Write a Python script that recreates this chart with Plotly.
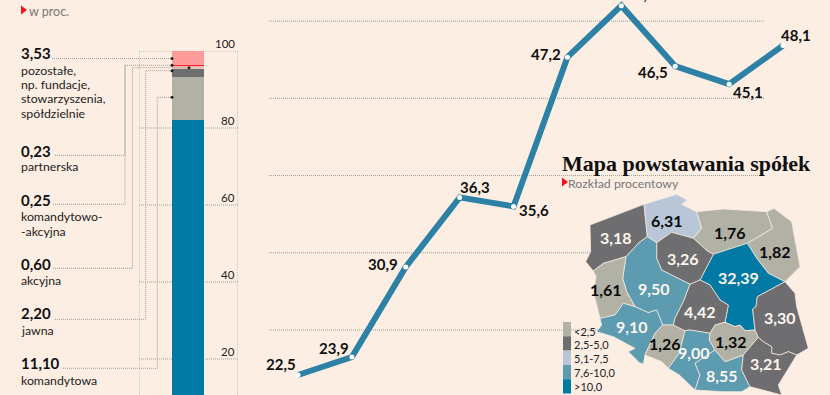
import plotly.graph_objects as go

# ---- data -----------------------------------------------------------
line_index = [0, 1, 2, 3, 4, 5, 6, 7, 8, 9]
line_values = [22.5, 23.9, 30.9, 36.3, 35.6, 47.2, 51.2, 46.5, 45.1, 48.1]
line_offsets = [(-17, -11), (-18, -9), (-23, -3), (15, -10), (20, 4),
                (-21, -3), (20, -12), (-22, 6), (19, 8), (13, -11)]
line_grid = [26, 32, 38, 44, 50]

stack_names = ["sp. z o.o.", "komandytowa", "jawna", "akcyjna",
               "komandytowo-akcyjna", "partnerska", "pozostałe"]
stack_values = [82.09, 11.10, 2.20, 0.60, 0.25, 0.23, 3.53]
stack_colors = ["#0079a5", "#b2b1a6", "#6e6e70", "#e3c7bd", "#fdb0a8", "#f0242c", "#fe9c9c"]
bar_ticks = [20, 40, 60, 80, 100]

BG = "#fdeee3"
GRID = "#a09c96"
LOW, MID, PALE, TEAL, DEEP = "#b2b1a6", "#6e6e70", "#b9c6d8", "#5c9bb0", "#0079a5"

legend_labels = ["<2,5", "2,5-5,0", "5,1-7,5", "7,6-10,0", ">10,0"]
legend_colors = [LOW, MID, PALE, TEAL, DEEP]

region_values = [3.18, 6.31, 1.76, 1.82, 32.39, 3.26, 9.50, 1.61, 9.10, 1.26, 4.42, 9.00, 8.55, 1.32, 3.30, 3.21]
region_labels = ["3,18", "6,31", "1,76", "1,82", "32,39", "3,26", "9,50", "1,61",
                 "9,10", "1,26", "4,42", "9,00", "8,55", "1,32", "3,30", "3,21"]
region_label_at = [(616, 237), (667, 220), (730, 232), (775, 251), (738, 277), (683, 258), (654, 288), (606, 289),
                   (632, 326), (665, 343), (700, 311), (694, 352), (722, 375), (731, 341), (780, 317), (766, 363)]
# traced outlines, in crop units (3x, origin 550,145)
region_outlines = [
    [(120,240),(282,178),(292,275),(268,292),(228,335),(160,355),(130,378),(107,350),(122,320)],
    [(282,178),(380,148),(412,165),(395,178),(440,200),(455,250),(430,280),(365,262),(320,293),(292,275)],
    [(440,200),(520,192),(650,200),(668,250),(592,295),(490,328),(472,318),(430,280),(455,250)],
    [(650,200),(672,190),(725,230),(750,365),(705,410),(655,385),(620,340),(592,295),(668,250)],
    [(490,328),(592,295),(620,340),(655,385),(705,410),(622,455),(618,485),(608,492),(615,555),(585,557),(570,540),(555,545),(525,532),(535,480),(510,465),(480,420),(450,405)],
    [(320,293),(365,262),(430,280),(472,318),(490,328),(450,405),(420,418),(335,375),(320,340)],
    [(292,275),(320,293),(320,340),(335,375),(420,418),(400,470),(375,520),(370,540),(338,540),(320,495),(295,503),(255,485),(230,440),(218,400),(228,335),(268,292)],
    [(130,378),(160,355),(228,335),(218,400),(230,440),(255,485),(220,475),(195,510),(150,520),(130,440),(138,395)],
    [(150,520),(195,510),(220,475),(255,485),(295,503),(320,495),(338,540),(315,565),(285,630),(280,657),(268,653),(235,620),(255,610),(190,575),(140,560),(155,540)],
    [(338,540),(370,540),(405,557),(395,595),(388,625),(355,670),(335,650),(285,630),(315,565)],
    [(420,418),(450,405),(480,420),(510,465),(535,480),(525,532),(495,540),(480,565),(420,555),(405,557),(370,540),(375,520),(400,470)],
    [(405,557),(420,555),(480,565),(478,585),(495,615),(435,655),(450,690),(435,735),(388,690),(355,670),(388,625),(395,595)],
    [(495,615),(525,650),(580,630),(575,675),(600,725),(575,740),(520,740),(475,738),(435,735),(450,690),(435,655)],
    [(480,565),(495,540),(525,532),(555,545),(570,540),(585,557),(615,555),(625,577),(580,630),(525,650),(495,615),(478,585)],
    [(622,455),(705,410),(735,445),(740,485),(775,610),(740,630),(715,620),(690,630),(665,625),(665,605),(640,590),(625,577),(615,555),(608,492),(618,485)],
    [(625,577),(640,590),(665,605),(665,625),(690,630),(715,620),(740,630),(685,720),(695,750),(600,725),(575,675),(580,630)],
]

left_values = ["3,53", "0,23", "0,25", "0,60", "2,20", "11,10"]
left_value_y = [53, 151, 200, 264, 313, 363]
left_names = ["pozostałe,", "np. fundacje,", "stowarzyszenia,", "spółdzielnie", "partnerska",
              "komandytowo-", "-akcyjna", "akcyjna", "jawna", "komandytowa"]
left_name_y = [70, 84, 98, 113, 166, 216, 231, 280, 330, 380]

leaders = [
    [(52,58.5),(172,58.5)],
    [(55,155.3),(125,155.3),(125,65.3),(172,65.3)],
    [(53,204.3),(125,204.3),(125,65.3)],
    [(53,268.3),(132.5,268.3),(132.5,67.7),(189,67.7)],
    [(55,319.3),(145.7,319.3),(145.7,70.7),(172,70.7)],
    [(63,368.3),(157.3,368.3),(157.3,97.3),(172,97.3)],
]
leader_dots = [(172,58.5),(172,65.3),(189,67.7),(172,70.7),(172,97.3)]

# ---- helpers --------------------------------------------------------
W, H = 830, 395
DOT = "1px,1px"
def bin_color(v):
    if v < 2.5: return LOW
    if v <= 5.0: return MID
    if v <= 7.5: return PALE
    if v <= 10.0: return TEAL
    return DEEP

fig = go.Figure()
anns = []
def label(x, y, text, size=12.3, color="#222", bold=False, anchor="left", family="Lato"):
    if bold: text = f"<b>{text}</b>"
    anns.append(dict(x=x, y=y, xref="x3", yref="y3", text=text, showarrow=False, xanchor=anchor, yanchor="middle",
                     font=dict(family=family, size=size, color=color), borderpad=0, borderwidth=0))

# ---- stacked bar ----------------------------------------------------
for n, v, c in zip(stack_names, stack_values, stack_colors):
    fig.add_bar(x=[0], y=[v], name=n, marker=dict(color=c, line=dict(width=0)), width=1, xaxis="x", yaxis="y")
for t in bar_ticks:
    anns.append(dict(x=1, xref="x domain", y=t, yref="y", text=str(t), showarrow=False, xanchor="right", yanchor="bottom",
                     xshift=-3, yshift=1, font=dict(family="Lato", size=11.5, color="#222"), borderpad=0, borderwidth=0))

# ---- line -----------------------------------------------------------
fig.add_scatter(x=line_index, y=line_values, mode="lines+markers", xaxis="x2", yaxis="y2",
                line=dict(color="#2c81a5", width=6, shape="linear"),
                marker=dict(color="white", size=5, line=dict(color="#2c81a5", width=0)))
for xi, v, (dx, dy) in zip(line_index, line_values, line_offsets):
    anns.append(dict(x=xi, y=v, xref="x2", yref="y2", text="<b>" + f"{v:.1f}".replace(".", ",") + "</b>", showarrow=False,
                     xshift=dx, yshift=-dy, font=dict(family="Lato", size=15, color="#111"), borderpad=0, borderwidth=0))

# ---- leaders --------------------------------------------------------
for pts in leaders:
    fig.add_scatter(x=[p[0] for p in pts], y=[p[1] for p in pts], mode="lines", xaxis="x3", yaxis="y3",
                    line=dict(color=GRID, width=1, dash=DOT))
fig.add_scatter(x=[p[0] for p in leader_dots], y=[p[1] for p in leader_dots], mode="markers", xaxis="x3", yaxis="y3",
                marker=dict(color="#222", size=3))

# ---- map ------------------------------------------------------------
for outline, v in zip(region_outlines, region_values):
    xs = [550 + p[0] / 3 for p in outline] + [550 + outline[0][0] / 3]
    ys = [145 + p[1] / 3 for p in outline] + [145 + outline[0][1] / 3]
    fig.add_scatter(x=xs, y=ys, mode="lines", fill="toself", fillcolor=bin_color(v), xaxis="x3", yaxis="y3",
                    line=dict(color=BG, width=0.7))
for (lx, ly), t, v in zip(region_label_at, region_labels, region_values):
    light = bin_color(v) in (MID, TEAL, DEEP)
    label(lx, ly, t, size=16, color="#fdf6ef" if light else "#0a0a0a", bold=True, anchor="center")

# triangles
fig.add_scatter(x=[23, 564], y=[10, 182], mode="markers", xaxis="x3", yaxis="y3",
                marker=dict(symbol="triangle-right", color="#f5101c", size=8))

# ---- texts ----------------------------------------------------------
label(29, 11, "w proc.", size=12.5, color="#777")
label(568, 183, "Rozkład procentowy", size=12.3, color="#777")
label(562, 163, "<b>Mapa powstawania spółek</b>", size=22, color="#111", family="Liberation Serif")
for t, y in zip(left_values, left_value_y):
    label(21, y, t, size=15, color="#111", bold=True)
for t, y in zip(left_names, left_name_y):
    label(21, y, t, color="#222")
for i, t in enumerate(legend_labels):
    label(574, 331 + i * 13.8, t, size=11, color="#222")

bar_left, bar_right = -1.531, 1.5625
shapes = [dict(type="rect", xref="x3", yref="y3", x0=563, x1=571, y0=322 + i * 14.3, y1=322 + (i + 1) * 14.3,
               fillcolor=c, line=dict(width=0), layer="above") for i, c in enumerate(legend_colors)]
# dotted rules of the bar's scale
for t in bar_ticks:
    shapes.append(dict(type="line", xref="x", yref="y", x0=bar_left, x1=bar_right, y0=t, y1=t, layer="below",
                       line=dict(color=GRID, width=1, dash=DOT)))
for bx in (bar_left, bar_right):
    shapes.append(dict(type="line", xref="x", yref="y", x0=bx, x1=bx, y0=10.65, y1=100, layer="below",
                       line=dict(color=GRID, width=1, dash=DOT)))
# dotted rules of the line chart
for g in line_grid:
    shapes.append(dict(type="line", xref="x3", yref="y2", x0=269, x1=765, y0=g, y1=g, layer="below",
                       line=dict(color=GRID, width=1, dash=DOT)))

# ---- layout ---------------------------------------------------------
fig.update_layout(
    width=W, height=H, margin=dict(l=0, r=0, t=0, b=0), paper_bgcolor=BG, plot_bgcolor="rgba(0,0,0,0)",
    barmode="stack", showlegend=False, annotations=anns, shapes=shapes, hovermode=False,
    xaxis=dict(domain=[139 / W, 238 / W], range=[bar_left, bar_right], showticklabels=False,
               showgrid=False, zeroline=False, ticks="", anchor="y"),
    yaxis=dict(domain=[0, (H - 51) / H], range=[10.65, 100], showticklabels=False, showgrid=False,
               zeroline=False, ticks="", anchor="x"),
    xaxis2=dict(domain=[0, 1], range=[-5.53, 9.872], showticklabels=False, showgrid=False, zeroline=False,
                ticks="", anchor="y2"),
    yaxis2=dict(domain=[0, 1], range=[20.946, 51.64], showticklabels=False, showgrid=False,
                zeroline=False, ticks="", anchor="x2"),
    xaxis3=dict(domain=[0, 1], range=[0, W], visible=False, anchor="y3"),
    yaxis3=dict(domain=[0, 1], range=[H, 0], visible=False, anchor="x3"),
)

fig.write_html("out.html", config={"displayModeBar": False},
               post_script="document.body.style.margin='0';document.body.style.overflow='hidden';document.body.style.background='%s';" % BG)
